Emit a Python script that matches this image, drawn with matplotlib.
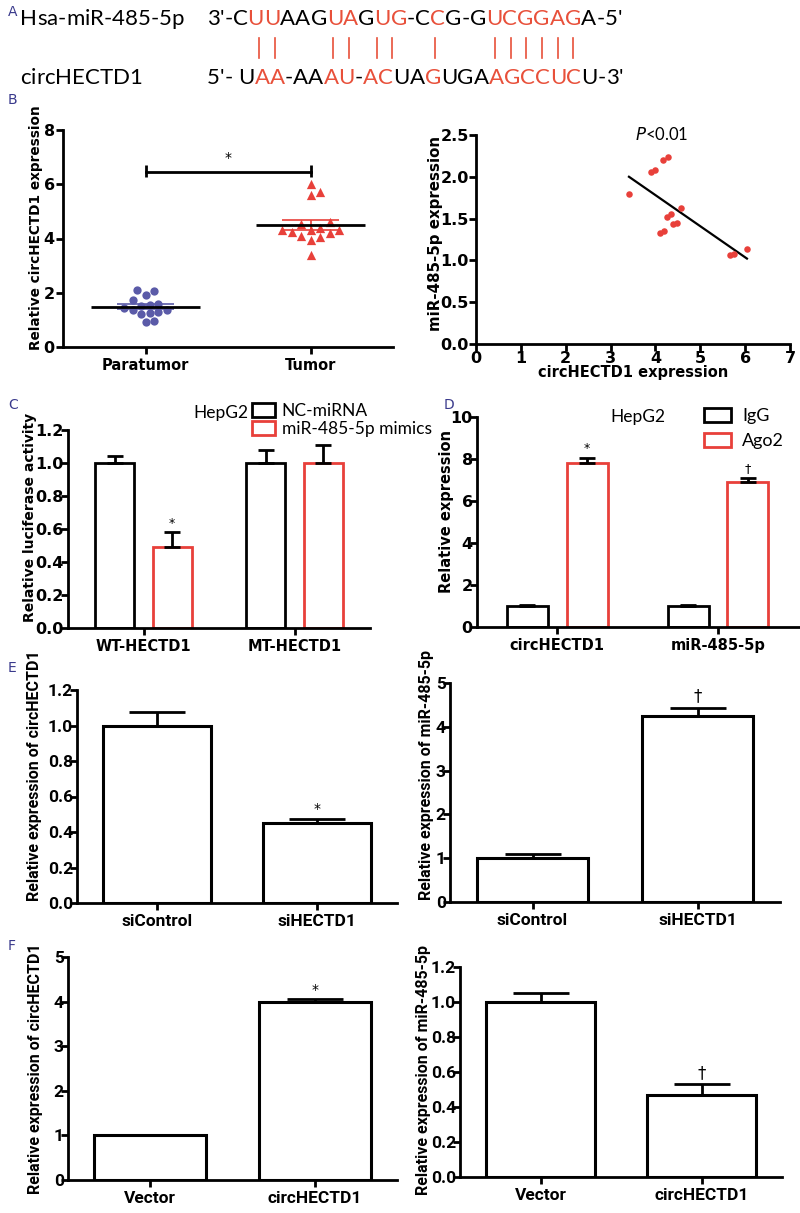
import numpy as np
import matplotlib
matplotlib.use('Agg')
import matplotlib.pyplot as plt
from matplotlib.patches import Patch
from matplotlib.ticker import FormatStrFormatter

RED = '#e8403a'
SEQ_RED = '#e8503a'
BLUE = '#5b5ba8'
NAVY = '#3a3a8c'
SANS = 'DejaVu Sans'
CAL = 'Lato'
BOLD2 = 'Roboto'

# ---------------- data ----------------
# A: base pairing
mir_name = 'Hsa-miR-485-5p'
mir_seq = "3'-CUUAAGUAGUG-CCG-GUCGGAGA-5'"
mir_pair = "000011000110110010001111110000"
circ_name = 'circHECTD1'
circ_seq = "5'- UAA-AAAU-ACUAGUGAAGCCUCU-3'"
circ_pair = "0000011000110110010001111110000"

# B: tissue expression
b_groups = ['Paratumor', 'Tumor']
paratumor = [2.1, 2.08, 1.92, 1.75, 1.6, 1.55, 1.5, 1.42, 1.38, 1.35, 1.3, 1.25, 1.2, 0.95, 0.93]
tumor = [6.0, 5.7, 5.6, 4.6, 4.55, 4.4, 4.3, 4.3, 4.25, 4.3, 4.2, 4.05, 3.95, 4.1, 3.4]
circ_expr = [3.41, 3.91, 3.99, 4.17, 4.27, 4.56, 4.25, 4.34, 4.10, 4.19, 4.39, 4.48, 5.66, 5.75, 6.04]
mir_expr = [1.80, 2.06, 2.08, 2.20, 2.24, 1.63, 1.52, 1.55, 1.33, 1.35, 1.43, 1.45, 1.06, 1.08, 1.14]

# C: luciferase
c_groups = ['WT-HECTD1', 'MT-HECTD1']
c_series = ['NC-miRNA', 'miR-485-5p mimics']
c_mean = [[1.0, 1.0], [0.49, 1.0]]
c_err = [[0.04, 0.08], [0.09, 0.11]]
c_sig = [['', ''], ['*', '']]

# D: RIP
d_groups = ['circHECTD1', 'miR-485-5p']
d_series = ['IgG', 'Ago2']
d_mean = [[1.0, 1.0], [7.8, 6.9]]
d_err = [[0.03, 0.05], [0.25, 0.2]]
d_sig = [['', ''], ['*', '\u2020']]

# E: knockdown
e_groups = ['siControl', 'siHECTD1']
e_circ = [1.0, 0.45]
e_circ_err = [0.075, 0.025]
e_circ_sig = ['', '*']
e_mir = [1.0, 4.25]
e_mir_err = [0.1, 0.19]
e_mir_sig = ['', '\u2020']

# F: overexpression
f_groups = ['Vector', 'circHECTD1']
f_circ = [1.0, 4.0]
f_circ_err = [0.02, 0.05]
f_circ_sig = ['', '*']
f_mir = [1.0, 0.47]
f_mir_err = [0.05, 0.06]
f_mir_sig = ['', '\u2020']

W, H = 800, 1213
fig = plt.figure(figsize=(W / 100, H / 100), dpi=100)


def px_axes(l, t, r, b):
    return fig.add_axes([l / W, 1 - b / H, (r - l) / W, (b - t) / H])


def prism(ax, fs, family, fmt=None, ypad=1):
    for s in ['top', 'right']:
        ax.spines[s].set_visible(False)
    for s in ['left', 'bottom']:
        ax.spines[s].set_linewidth(2)
    ax.tick_params(width=2, length=5, labelsize=fs, pad=3)
    ax.tick_params(axis='y', pad=ypad)
    if fmt:
        ax.yaxis.set_major_formatter(FormatStrFormatter(fmt))
    for lab in ax.get_xticklabels() + ax.get_yticklabels():
        lab.set_fontweight('bold')
        lab.set_family(family)


def ylab(ax, text, fs, family, xr, yc):
    ax.set_ylabel(text, fontsize=fs, fontweight='bold', family=family)
    ax.yaxis.set_label_coords(xr, yc)


def bars1(ax, vals, errs, sigs, width, cap, fs_sig):
    x = np.arange(len(vals))
    ax.bar(x, vals, width, facecolor='white', edgecolor='k', linewidth=2.2, zorder=2)
    ax.errorbar(x, vals, yerr=[np.zeros(len(vals)), errs], fmt='none', ecolor='k',
                elinewidth=2, capsize=cap, capthick=2, zorder=3)
    top = ax.get_ylim()[1]
    for xi, v, e, s in zip(x, vals, errs, sigs):
        if s:
            ax.text(xi, v + e + top * 0.012, s, ha='center', va='bottom', fontsize=fs_sig)


def bars2(ax, means, errs, sigs, width, off, colors, cap, fs_sig):
    x = np.arange(len(means[0]))
    handles = []
    top = ax.get_ylim()[1]
    for k in range(len(means)):
        xs = x + (k - 0.5) * 2 * off
        ax.bar(xs, means[k], width, facecolor='white', edgecolor=colors[k], linewidth=2, zorder=2)
        ax.errorbar(xs, means[k], yerr=[np.zeros(len(xs)), errs[k]], fmt='none', ecolor='k',
                    elinewidth=2, capsize=cap, capthick=2, zorder=3)
        for xi, v, e, s in zip(xs, means[k], errs[k], sigs[k]):
            if s:
                ax.text(xi, v + e + top * 0.012, s, ha='center', va='bottom', fontsize=fs_sig)
        handles.append(Patch(facecolor='white', edgecolor=colors[k], linewidth=2))
    return handles


def swarm(vals, ylim, h_px, d_px):
    ypx = (np.asarray(vals) - ylim[0]) / (ylim[1] - ylim[0]) * h_px
    offs = np.zeros(len(vals))
    placed = []
    for i in np.argsort(ypx):
        for k in range(60):
            c = ((k + 1) // 2) * (1 if k % 2 else -1) * d_px * 0.5
            if all((c - px) ** 2 + (ypx[i] - py) ** 2 >= (0.95 * d_px) ** 2 for px, py in placed):
                break
        offs[i] = c
        placed.append((c, ypx[i]))
    return offs


# ---------------- panel A ----------------
axA = fig.add_axes([0, 0, 1, 1])
axA.axis('off')
axA.set_xlim(0, W)
axA.set_ylim(H, 0)


def char_row(x, y, text, fs, gap, colors):
    prev = axA.text(x, y, text[0], fontsize=fs, family=CAL, va='baseline', color=colors[0])
    chars = [prev]
    for ch, col in zip(text[1:], colors[1:]):
        prev = axA.annotate(ch, xy=(1, 0), xycoords=prev, xytext=(gap, 0),
                            textcoords='offset points', va='bottom', ha='left',
                            fontsize=fs, family=CAL, color=col)
        chars.append(prev)
    return chars


def seq_row(y, name, gap, seq, mask, fs):
    char_row(20, y, name, fs, gap, ['k'] * len(name))
    return char_row(207, y, seq, fs, 0, [SEQ_RED if m == '1' else 'k' for m in mask])


top_chars = seq_row(25, mir_name, 0, mir_seq, mir_pair, 16)
bot_chars = seq_row(84, circ_name, 0, circ_seq, circ_pair, 16)
fig.canvas.draw()
rend = fig.canvas.get_renderer()
inv = axA.transData.inverted()
tops = [c for c, m in zip(top_chars, mir_pair) if m == '1']
bots = [c for c, m in zip(bot_chars, circ_pair) if m == '1']
for t, b in zip(tops, bots):
    bt = t.get_window_extent(rend)
    bb = b.get_window_extent(rend)
    xc = inv.transform(((bt.x0 + bt.x1 + bb.x0 + bb.x1) / 4, 0))[0]
    axA.plot([xc, xc], [38, 58], color=SEQ_RED, lw=1.2)

for lab, x, y in [('A', 8, 12), ('B', 8, 100), ('C', 8, 405), ('D', 444, 405),
                  ('E', 8, 668), ('F', 8, 946)]:
    axA.text(x, y, lab, color=NAVY, fontsize=10, family=SANS, va='center')

# ---------------- panel B left ----------------
ax = px_axes(63, 130, 393, 347)
ax.set_xlim(0.5, 2.5)
ax.set_ylim(0, 8)
ax.set_yticks([0, 2, 4, 6, 8])
ax.set_xticks([1, 2])
ax.set_xticklabels(b_groups)
prism(ax, 11.5, SANS)
for lab in ax.get_xticklabels():
    lab.set_fontsize(10.5)
for i, (vals, col, mk, d) in enumerate([(paratumor, BLUE, 'o', 8.5), (tumor, RED, '^', 9.5)]):
    offs = swarm(vals, (0, 8), 217, d) / 330 * 2.0
    ax.scatter(i + 1 + offs, vals, s=(d * 0.72) ** 2 * 0.95, c=col, marker=mk, lw=0, zorder=3)
    m = np.mean(vals)
    sem = np.std(vals, ddof=1) / np.sqrt(len(vals))
    ax.hlines(m, i + 1 - 0.33, i + 1 + 0.33, color='k', lw=2, zorder=4)
    ax.vlines(i + 1, m - sem, m + sem, color=col, lw=1.2, zorder=2)
    ax.hlines([m - sem, m + sem], i + 1 - 0.17, i + 1 + 0.17, color=col, lw=1.2, zorder=2)
ax.plot([1, 2], [6.47, 6.47], color='k', lw=2)
ax.vlines([1, 2], 6.25, 6.7, color='k', lw=2)
ax.text(1.5, 6.72, '*', ha='center', va='bottom', fontsize=10)
ylab(ax, 'Relative circHECTD1 expression', 9.8, SANS, -0.06, 0.55)

# ---------------- panel B right ----------------
ax = px_axes(476, 135, 790, 344)
ax.set_xlim(0, 7)
ax.set_ylim(0, 2.5)
ax.set_xticks(range(8))
ax.set_yticks([0, 0.5, 1.0, 1.5, 2.0, 2.5])
prism(ax, 11.5, SANS, '%.1f', ypad=0)
ax.tick_params(axis='x', pad=0)
ax.scatter(circ_expr, mir_expr, s=22, c=RED, lw=0, zorder=3)
k, b0 = np.polyfit(circ_expr, mir_expr, 1)
xx = np.array([min(circ_expr), max(circ_expr)])
ax.plot(xx, k * xx + b0, color='k', lw=1.6, zorder=2)
ax.text(4.15, 2.5, '$\\mathit{P}$<0.01', ha='center', va='center', fontsize=12, family=CAL)
ax.set_xlabel('circHECTD1 expression', fontsize=10.5, fontweight='bold', family=SANS, labelpad=-1)
ylab(ax, 'miR-485-5p expression', 10.8, SANS, -0.105, 0.53)

# ---------------- panel C ----------------
ax = px_axes(68, 430, 370, 628)
ax.set_xlim(-0.5, 1.5)
ax.set_ylim(0, 1.2)
ax.set_yticks(np.arange(0, 1.21, 0.2))
ax.set_xticks([0, 1])
ax.set_xticklabels(c_groups)
h = bars2(ax, c_mean, c_err, c_sig, 0.26, 0.19, ['k', RED], 6, 9)
prism(ax, 11.5, SANS, '%.1f', ypad=-2)
for lab in ax.get_xticklabels():
    lab.set_fontsize(10.5)
ylab(ax, 'Relative luciferase activity', 10, SANS, -0.103, 0.56)
fig.text(193 / W, 1 - 413 / H, 'HepG2', fontsize=12.5, family=CAL, va='center')
fig.legend(h, c_series, loc='upper left', bbox_to_anchor=(252 / W, 1 - 403 / H), frameon=False,
           prop={'family': CAL, 'size': 12.5}, handlelength=1.3, handleheight=0.85,
           handletextpad=0.4, labelspacing=0.1, borderpad=0, borderaxespad=0)

# ---------------- panel D ----------------
ax = px_axes(477, 417, 800, 627)
ax.set_xlim(-0.5, 1.51)
ax.set_ylim(0, 10)
ax.set_yticks(range(0, 11, 2))
ax.set_xticks([0, 1])
ax.set_xticklabels(d_groups)
h = bars2(ax, d_mean, d_err, d_sig, 0.255, 0.186, ['k', RED], 6, 9)
prism(ax, 11.5, SANS, ypad=-2)
for lab in ax.get_xticklabels():
    lab.set_fontsize(10.5)
ylab(ax, 'Relative expression', 10.5, SANS, -0.07, 0.55)
fig.text(610 / W, 1 - 417 / H, 'HepG2', fontsize=12.5, family=CAL, va='center')
fig.legend(h, d_series, loc='upper left', bbox_to_anchor=(704 / W, 1 - 408 / H), frameon=False,
           prop={'family': CAL, 'size': 13}, handlelength=1.5, handleheight=0.85,
           handletextpad=0.6, labelspacing=0.45, borderpad=0, borderaxespad=0)

# ---------------- panel E ----------------
ax = px_axes(77, 690, 397, 903)
ax.set_xlim(-0.5, 1.5)
ax.set_ylim(0, 1.2)
ax.set_yticks(np.arange(0, 1.21, 0.2))
ax.set_xticks([0, 1])
ax.set_xticklabels(e_groups)
bars1(ax, e_circ, e_circ_err, e_circ_sig, 0.675, 20, 10)
prism(ax, 12.5, BOLD2, '%.1f', ypad=-2)
ylab(ax, 'Relative expression of circHECTD1', 11.5, BOLD2, -0.109, 0.60)

ax = px_axes(450, 683, 780, 902)
ax.set_xlim(-0.5, 1.5)
ax.set_ylim(0, 5)
ax.set_yticks(range(6))
ax.set_xticks([0, 1])
ax.set_xticklabels(e_groups)
bars1(ax, e_mir, e_mir_err, e_mir_sig, 0.67, 20, 12)
prism(ax, 12.5, BOLD2, ypad=-2)
ylab(ax, 'Relative expression of miR-485-5p', 11.5, BOLD2, -0.05, 0.58)

# ---------------- panel F ----------------
ax = px_axes(68, 957, 397, 1180)
ax.set_xlim(-0.5, 1.5)
ax.set_ylim(0, 5)
ax.set_yticks(range(6))
ax.set_xticks([0, 1])
ax.set_xticklabels(f_groups)
bars1(ax, f_circ, f_circ_err, f_circ_sig, 0.68, 20, 10)
prism(ax, 12.5, BOLD2, ypad=-2)
ylab(ax, 'Relative expression of circHECTD1', 11.5, BOLD2, -0.076, 0.50)

ax = px_axes(460, 967, 782, 1177)
ax.set_xlim(-0.5, 1.5)
ax.set_ylim(0, 1.2)
ax.set_yticks(np.arange(0, 1.21, 0.2))
ax.set_xticks([0, 1])
ax.set_xticklabels(f_groups)
bars1(ax, f_mir, f_mir_err, f_mir_sig, 0.68, 20, 12)
prism(ax, 12.5, BOLD2, '%.1f', ypad=-2)
ylab(ax, 'Relative expression of miR-485-5p', 11.5, BOLD2, -0.09, 0.51)

fig.savefig('out.png', dpi=100)
